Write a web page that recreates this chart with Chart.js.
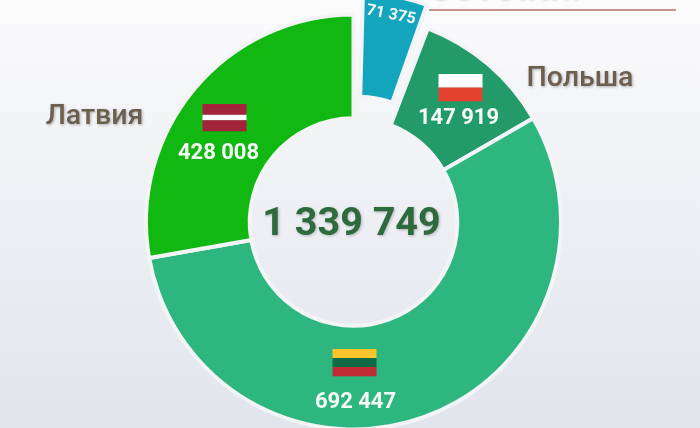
<!DOCTYPE html>
<html lang="ru">
<head>
    <meta charset="UTF-8">
    <title>Население</title>
    <script src="https://cdn.jsdelivr.net/npm/chart.js"></script>
    <style>
        html, body {
            margin: 0;
            padding: 0;
            width: 700px;
            height: 428px;
            overflow: hidden;
            background: linear-gradient(180deg, #fbfbfc 0%, #eceef3 55%, #e1e5eb 100%);
        }

        #chart-container {
            position: relative;
            width: 700px;
            height: 428px;
        }

        canvas {
            display: block;
        }
    </style>
</head>
<body>
    <div id="chart-container">
        <canvas id="donutChart" width="700" height="428"></canvas>
    </div>

    <script>
        const countries = ['Эстония', 'Польша', 'Литва', 'Латвия'];
        const population = [71375, 147919, 692447, 428008];
        const totalLabel = '1 339 749';
        // the slices in the picture are not to scale with the numbers, so the sweep is read off it (degrees)
        // 2nd and last entries are the empty gaps on both sides of the pulled out slice
        const sliceDegrees = [18, 1.5, 39, 200, 100, 1.5];
        const sliceColors = ['#12a5bd', 'transparent', '#229b69', '#2db77f', '#12b812', 'transparent'];
        const sliceBorders = ['#f2f4f6', 'transparent', '#f2f4f6', '#f2f4f6', '#f2f4f6', 'transparent'];
        const pullOut = 22;

        const flagStripes = [
            [],
            ['#ffffff', '#e4412f'],
            ['#f9c52b', '#0f6a45', '#bf2c35'],
            ['#a5233a', '#a5233a', '#ffffff', '#a5233a', '#a5233a']
        ];

        // label placement relative to the centre of the ring
        const valueSpots = [null, [105, -104], [2, 180], [-135, -69]];
        const flagSpots = [null, [107, -148], [1, 127], [-129, -118]];

        function formatValue(v) {
            return String(v).replace(/\B(?=(\d{3})+$)/g, ' ');
        }

        // arc offset in chart.js also grows the slice, so move the element itself
        const pullSlice = {
            id: 'pullSlice',
            afterDatasetsUpdate(chart) {
                const arcs = chart.getDatasetMeta(0).data;
                const mid = (arcs[0].startAngle + arcs[0].endAngle) / 2;
                arcs[0].x = arcs[1].x + Math.cos(mid) * pullOut;
                arcs[0].y = arcs[1].y + Math.sin(mid) * pullOut;
            }
        };

        const ringLabels = {
            id: 'ringLabels',
            afterDatasetsDraw(chart) {
                const ctx = chart.ctx;
                const arcs = chart.getDatasetMeta(0).data;
                const cx = arcs[1].x;
                const cy = arcs[1].y;

                ctx.save();
                ctx.textAlign = 'center';
                ctx.textBaseline = 'middle';

                population.forEach((value, i) => {
                    if (i === 0) {
                        return;
                    }
                    const [fx, fy] = flagSpots[i];
                    const stripes = flagStripes[i];
                    const flagH = 27;
                    stripes.forEach((color, s) => {
                        ctx.fillStyle = color;
                        ctx.fillRect(cx + fx - 22, cy + fy + flagH * s / stripes.length, 44, flagH / stripes.length + 0.3);
                    });

                    ctx.fillStyle = '#f7fbf7';
                    ctx.font = 'bold 22px Roboto';
                    ctx.fillText(formatValue(value), cx + valueSpots[i][0], cy + valueSpots[i][1]);
                });

                // rotated label on the pulled out slice
                ctx.save();
                ctx.translate(391, 15);
                ctx.rotate(11 * Math.PI / 180);
                ctx.fillStyle = '#f7fbf7';
                ctx.font = 'bold 16px Roboto';
                ctx.fillText(formatValue(population[0]), 0, 0);
                ctx.restore();

                // total in the hole
                ctx.shadowColor = 'rgba(0,0,0,0.25)';
                ctx.shadowBlur = 3;
                ctx.shadowOffsetX = 1;
                ctx.shadowOffsetY = 1;
                ctx.fillStyle = '#2e6b3c';
                ctx.font = 'bold 39.5px Roboto';
                ctx.fillText(totalLabel, cx - 2, cy + 3);

                // country names outside the ring
                ctx.shadowColor = 'rgba(0,0,0,0.3)';
                ctx.fillStyle = '#6c5f4e';
                ctx.font = '500 28.5px Roboto';
                ctx.fillText(countries[1], 580, 79);
                ctx.fillText(countries[3], 94.5, 117);

                // cut off heading above the line
                ctx.textAlign = 'left';
                ctx.letterSpacing = '6px';
                ctx.fillText(countries[0], 431, -8);
                ctx.letterSpacing = '0px';
                ctx.shadowColor = 'transparent';
                ctx.strokeStyle = '#b5736c';
                ctx.lineWidth = 1.5;
                ctx.beginPath();
                ctx.moveTo(429, 10);
                ctx.lineTo(676, 10);
                ctx.stroke();

                ctx.restore();
            }
        };

        const chart = new Chart(document.getElementById('donutChart').getContext('2d'), {
            type: 'doughnut',
            data: {
                labels: ['', '', ...countries.slice(1), ''],
                datasets: [{
                    data: sliceDegrees,
                    backgroundColor: sliceColors,
                    borderColor: sliceBorders,
                    borderWidth: 4,
                    clip: false
                }]
            },
            options: {
                responsive: false,
                animation: false,
                rotation: 1.5,
                radius: 207.5,
                cutout: '50%',
                layout: { padding: { top: 16, left: 7 } },
                plugins: {
                    legend: { display: false },
                    tooltip: { enabled: false }
                }
            },
            plugins: [pullSlice, ringLabels]
        });
    </script>
</body>
</html>
